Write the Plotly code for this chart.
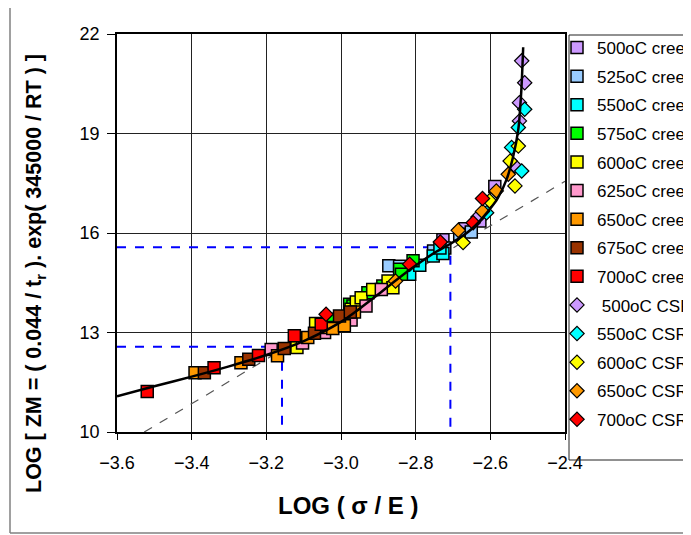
import plotly.graph_objects as go

# ---------------- data ----------------
c500_x = [-2.727, -2.668, -2.628, -2.588]
c500_y = [15.80, 16.13, 16.36, 17.40]
c525_x = [-2.872, -2.843, -2.752, -2.722, -2.682, -2.651]
c525_y = [15.01, 15.00, 15.46, 15.55, 15.96, 16.03]
c550_x = [-2.816, -2.789, -2.753, -2.727, -2.735]
c550_y = [14.76, 15.03, 15.31, 15.38, 15.55]
c575_x = [-3.022, -2.977, -2.968, -2.928, -2.888, -2.843, -2.838, -2.807]
c575_y = [13.40, 13.85, 13.80, 14.20, 14.40, 14.91, 14.76, 15.16]
c600_x = [-3.118, -3.068, -2.973, -2.959, -2.946, -2.915, -2.874, -2.861]
c600_y = [12.55, 13.27, 13.70, 13.92, 14.05, 14.30, 14.55, 14.35]
c625_x = [-3.187, -3.103, -3.044, -2.973, -2.933, -2.892]
c625_y = [12.49, 12.68, 13.00, 13.38, 13.80, 14.30]
c650_x = [-3.391, -3.268, -3.170, -3.089, -3.035, -3.022, -2.991, -2.964]
c650_y = [11.79, 12.09, 12.30, 12.85, 13.15, 13.12, 13.20, 13.62]
c675_x = [-3.366, -3.247, -3.152, -3.071, -3.004, -2.975]
c675_y = [11.79, 12.19, 12.52, 12.98, 13.50, 13.62]
c700_x = [-3.519, -3.340, -3.221, -3.125, -3.053]
c700_y = [11.22, 11.94, 12.31, 12.90, 13.25]

s500_x = [-2.633, -2.534, -2.522, -2.522, -2.508, -2.516]
s500_y = [16.48, 18.02, 19.38, 19.93, 20.53, 21.19]
s550_x = [-2.610, -2.516, -2.543, -2.525, -2.508]
s550_y = [16.61, 17.87, 18.58, 19.18, 19.73]
s600_x = [-2.673, -2.602, -2.534, -2.547, -2.525]
s600_y = [15.71, 16.97, 17.42, 18.17, 18.62]
s650_x = [-2.854, -2.686, -2.621, -2.584, -2.552]
s650_y = [14.55, 16.08, 16.65, 17.27, 17.77]
s700_x = [-3.040, -2.816, -2.734, -2.646, -2.621]
s700_y = [13.55, 15.06, 15.73, 16.31, 17.04]

# master curve
curve_x = [-3.6, -3.5, -3.4, -3.3, -3.2, -3.1, -3.0, -2.95, -2.9, -2.85, -2.8,
           -2.75, -2.7, -2.65, -2.61, -2.58, -2.557, -2.539, -2.525, -2.517, -2.512]
curve_y = [11.08, 11.38, 11.67, 11.98, 12.32, 12.74, 13.32, 13.72, 14.15, 14.6, 15.02,
           15.4, 15.72, 16.12, 16.6, 17.05, 17.6, 18.3, 19.13, 20.3, 21.6]

# straight dashed reference line
ref_x = [-3.527, -2.4]
ref_y = [10.0, 17.56]

# blue guide lines
guide1_x = [-3.6, -3.158, -3.158]
guide1_y = [12.57, 12.57, 10.0]
guide2_x = [-3.6, -2.707, -2.707]
guide2_y = [15.57, 15.57, 10.0]

creep_series = [
    ("500oC creep", c500_x, c500_y, "#CC99FF"),
    ("525oC creep", c525_x, c525_y, "#99CCFF"),
    ("550oC creep", c550_x, c550_y, "#00FFFF"),
    ("575oC creep", c575_x, c575_y, "#00FF00"),
    ("600oC creep", c600_x, c600_y, "#FFFF00"),
    ("625oC creep", c625_x, c625_y, "#FF99CC"),
    ("650oC creep", c650_x, c650_y, "#FF9900"),
    ("675oC creep", c675_x, c675_y, "#993300"),
    ("700oC creep", c700_x, c700_y, "#FF0000"),
]
csr_series = [
    (" 500oC CSR", s500_x, s500_y, "#CC99FF"),
    ("550oC CSR", s550_x, s550_y, "#00FFFF"),
    ("600oC CSR", s600_x, s600_y, "#FFFF00"),
    ("650oC CSR", s650_x, s650_y, "#FF9900"),
    ("700oC CSR", s700_x, s700_y, "#FF0000"),
]

FONT = "Arial, Liberation Sans, sans-serif"
fig = go.Figure()

for gx, gy in [(guide1_x, guide1_y), (guide2_x, guide2_y)]:
    fig.add_trace(go.Scatter(x=gx, y=gy, mode="lines", showlegend=False, hoverinfo="skip",
                             line=dict(color="#0000FF", width=2, dash="dash")))
fig.add_trace(go.Scatter(x=ref_x, y=ref_y, mode="lines", showlegend=False, hoverinfo="skip",
                         line=dict(color="#555555", width=1.2, dash="dash")))

for i, (name, xs, ys, col) in enumerate(creep_series):
    fig.add_trace(go.Scatter(x=xs, y=ys, mode="markers", name=name, legendgroup="g%02d" % i,
                             marker=dict(symbol="square", size=12, color=col,
                                         line=dict(color="black", width=1.5))))
for j, (name, xs, ys, col) in enumerate(csr_series):
    fig.add_trace(go.Scatter(x=xs, y=ys, mode="markers", name=name, legendgroup="h%02d" % j,
                             marker=dict(symbol="diamond", size=11, color=col,
                                         line=dict(color="black", width=1.2))))

fig.add_trace(go.Scatter(x=curve_x, y=curve_y, mode="lines", showlegend=False, hoverinfo="skip",
                         line=dict(color="black", width=2.5, shape="spline", smoothing=0.8)))

# page body adds an 8 px offset; figure sized so the plot lands where the reference has it
OFF = 8
W, H = 683, 527
L, T = 109, 26
PW, PH = 448, 398
R = W - L - PW
B = H - T - PH

def px2paper_x(wx):
    return (wx - OFF - L) / PW

def px2paper_y(wy):
    return (H - B - (wy - OFF)) / PH

shapes = [
    # legend box
    dict(type="rect", xref="paper", yref="paper",
         x0=px2paper_x(569), x1=px2paper_x(720), y0=px2paper_y(460), y1=px2paper_y(35),
         line=dict(color="#222222", width=1), fillcolor="rgba(0,0,0,0)", layer="above"),
    # outer chart border (left and bottom)
    dict(type="line", xref="paper", yref="paper",
         x0=px2paper_x(10), x1=px2paper_x(10), y0=px2paper_y(533), y1=px2paper_y(-5),
         line=dict(color="#808080", width=1.5)),
    dict(type="line", xref="paper", yref="paper",
         x0=px2paper_x(10), x1=px2paper_x(720), y0=px2paper_y(533), y1=px2paper_y(533),
         line=dict(color="#808080", width=1.5)),
]

annotations = [
    dict(text="<b>LOG [ ZM = ( 0.044 / t<sub>r</sub> ). exp( 345000 / RT ) ]</b>",
         xref="paper", yref="paper", x=px2paper_x(35), y=px2paper_y(274),
         xanchor="center", yanchor="middle", textangle=-90, showarrow=False,
         font=dict(size=21.5, family=FONT, color="black")),
    dict(text="<b>LOG ( σ / E )</b>",
         xref="paper", yref="paper", x=px2paper_x(348), y=px2paper_y(505),
         xanchor="center", yanchor="middle", showarrow=False,
         font=dict(size=24, family=FONT, color="black")),
]

fig.update_layout(
    width=W, height=H,
    margin=dict(l=L, r=R, t=T, b=B, autoexpand=False),
    paper_bgcolor="white", plot_bgcolor="white",
    font=dict(family=FONT, color="black"),
    showlegend=True,
    legend=dict(x=px2paper_x(557), y=px2paper_y(30), xanchor="left", yanchor="top",
                bgcolor="rgba(0,0,0,0)", borderwidth=0, maxheight=700,
                font=dict(family=FONT, size=17, color="black"),
                tracegroupgap=3.5, traceorder="grouped"),
    shapes=shapes,
    annotations=annotations,
    xaxis=dict(range=[-3.6, -2.4], dtick=0.2, tick0=-3.6, tickformat=".1f",
               showgrid=True, gridcolor="#222222", gridwidth=1,
               showline=True, linecolor="black", linewidth=1.5, mirror=True,
               ticks="outside", ticklen=6, tickcolor="black",
               tickfont=dict(size=18, family=FONT), ticklabelstandoff=8,
               zeroline=False),
    yaxis=dict(range=[10, 22], dtick=3, tick0=10,
               showgrid=True, gridcolor="#222222", gridwidth=1,
               showline=True, linecolor="black", linewidth=1.5, mirror=True,
               ticks="outside", ticklen=8, tickcolor="black",
               tickfont=dict(size=18, family=FONT), ticklabelstandoff=4,
               zeroline=False),
)

fig.write_html("out.html")
